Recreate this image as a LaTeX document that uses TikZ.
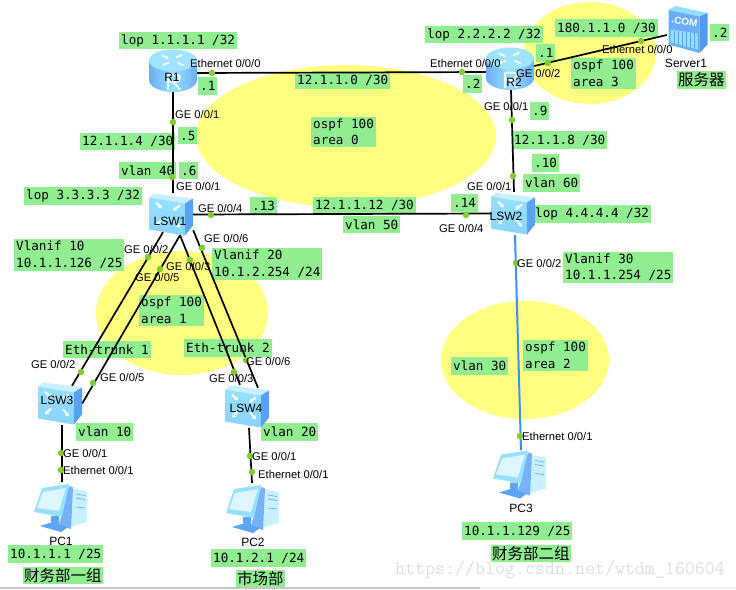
\documentclass[tikz,border=0pt]{standalone}
\usepackage{xcolor}
\usepackage{fontspec}
\setmainfont{Liberation Sans}
\newfontfamily\netmono{DejaVu Sans Mono}
\newfontfamily\netcjk{Noto Sans CJK SC}
\usepackage{tikz}
\usetikzlibrary{positioning, shapes.geometric, arrows.meta, calc, backgrounds}
\definecolor{netGreen}{HTML}{90EE90}
\definecolor{netDot}{HTML}{7FCC33}
\definecolor{netZone}{HTML}{FFFF80}
\definecolor{netBlue}{HTML}{3C90F0}
\definecolor{netSky}{HTML}{96E0FF}
\definecolor{netPale}{HTML}{C8F0FF}
\definecolor{netDeep}{HTML}{5CA4F6}
\definecolor{netMark}{HTML}{DEDDD8}
\tikzset{
  zone/.style={
    ellipse, fill=netZone, inner sep=0pt
  },
  tag/.style={
    rectangle, fill=netGreen,
    inner sep=2pt, minimum height=17.5pt,
    anchor=west, align=left,
    font=\netmono\fontsize{12.6}{16.5}\selectfont
  },
  cjktag/.style={
    rectangle, fill=netGreen,
    inner sep=1pt, minimum height=17.5pt,
    anchor=west, align=left,
    font=\netcjk\fontsize{15.5}{17}\selectfont
  },
  portdot/.style={
    circle, fill=netDot, inner sep=0pt, minimum size=6.5pt
  },
  porttext/.style={
    inner sep=0pt, anchor=west,
    font=\fontsize{11.2}{13}\selectfont
  },
  devname/.style={
    inner sep=0pt,
    font=\fontsize{12}{14}\selectfont
  },
  link/.style={
    black, line width=1.7pt
  },
  bluelink/.style={
    netBlue, line width=2pt
  },
  routericon/.style={
    rectangle, inner sep=0pt,
    minimum width=48pt, minimum height=43pt,
    path picture={
      \begin{scope}[shift={(path picture bounding box.center)}]
        \shade[left color=netDeep!90, right color=netDeep!90, middle color=netSky]
          (-24,-10) -- (-24,9.5) arc[start angle=180, end angle=360, x radius=24, y radius=-12] -- (24,-10) -- cycle;
        \fill[netSky!90!white] (0,-10) ellipse[x radius=24, y radius=11];
        \draw[white, line width=1.6pt, -{Stealth[length=3pt, width=3pt]}] (-11,-15) -- (-4,-12);
        \draw[white, line width=1.6pt, -{Stealth[length=3pt, width=3pt]}] (3,-13) -- (10,-16);
        \draw[white, line width=1.6pt, -{Stealth[length=3pt, width=3pt]}] (-4,-8) -- (-11,-5);
        \draw[white, line width=1.6pt, -{Stealth[length=3pt, width=3pt]}] (11,-5) -- (4,-8);
        \draw[white, line width=2pt] (-5,4) -- (-5,19) (-5,4) -- (3,4) .. controls (8,4) and (8,11) .. (3,11) -- (-5,11) (0,11) -- (7,19);
      \end{scope}
    }
  },
  switchicon/.style={
    rectangle, inner sep=0pt,
    minimum width=44pt, minimum height=43pt,
    path picture={
      \begin{scope}[shift={(path picture bounding box.center)}]
        \fill[netPale] (-22,-17) -- (-17,-21) -- (22,-16) -- (14,-11) -- cycle;
        \shade[top color=netSky, bottom color=netSky!85!netBlue] (-22,-17) -- (14,-11) -- (14,21) -- (-22,15) -- cycle;
        \fill[netBlue!85!white] (14,-11) -- (22,-16) -- (22,11) -- (14,21) -- cycle;
        \draw[white, line width=1.8pt, -{Stealth[length=4pt, width=5pt]}] (-15,-12) -- (-9,-6);
        \draw[white, line width=1.8pt, -{Stealth[length=4pt, width=5pt]}] (9,-9) -- (2,-4);
        \draw[white, line width=1.8pt, -{Stealth[length=4pt, width=5pt]}] (-9,5) -- (-15,11);
        \draw[white, line width=1.8pt, -{Stealth[length=4pt, width=5pt]}] (3,6) -- (9,13);
      \end{scope}
    }
  },
  servericon/.style={
    rectangle, inner sep=0pt,
    minimum width=41pt, minimum height=47pt,
    path picture={
      \begin{scope}[shift={(path picture bounding box.center)}]
        \fill[netSky] (-19,-19.5) -- (-12,-23.5) -- (20,-16.5) -- (12,-13) -- cycle;
        \fill[netDeep!90] (-19,-19.5) -- (12,-13) -- (12,23.5) -- (-19,15) -- cycle;
        \fill[netBlue!90!white] (12,-13) -- (20,-16.5) -- (20,15) -- (12,23.5) -- cycle;
        \fill[netSky] (-17,0) -- (10,4) -- (10,20) -- (-17,13) -- cycle;
        \draw[netDeep, line width=0.8pt] (-13,1) -- (-13,14) (-9,1) -- (-9,15) (-5,2) -- (-5,16) (-1,2) -- (-1,17) (3,3) -- (3,18) (7,3) -- (7,19);
        \node[inner sep=0pt, white, rotate=-10, font=\bfseries\fontsize{10}{12}\selectfont] (comtext) at (-3,-8) {.COM};
      \end{scope}
    }
  },
  pcicon/.style={
    rectangle, inner sep=0pt,
    minimum width=54pt, minimum height=50pt,
    path picture={
      \begin{scope}[shift={(path picture bounding box.center)}]
        \fill[netPale] (9,-19) -- (26,-16) -- (26,15) -- (9,20) -- cycle;
        \fill[netDeep!85] (8,-21) -- (12,-20) -- (10,22) -- (-2,18) -- cycle;
        \draw[netDeep, line width=0.6pt] (15,-13) -- (24,-11.5) (15,-9) -- (24,-7.5) (15,0) -- (24,1);
        \fill[netDeep] (-10,9) -- (-2,9) -- (-2,17) -- (-10,15) -- cycle;
        \fill[netDeep] (-21,19) -- (-8,15) -- (7,20) -- (0,25) -- cycle;
        \fill[netSky] (-19,-19) -- (8,-23) -- (1,10) -- (-27,5) -- cycle;
        \fill[netPale!60!white] (-18,-15) -- (5,-19) -- (-2,4) -- (-24,1) -- cycle;
      \end{scope}
    }
  }
}
\begin{document}
\begin{tikzpicture}[x=1pt, y=-1pt]
  \useasboundingbox (0,0) rectangle (736,589);
  % devices
  \node[routericon] (R1) at (173,70.5) {};
  \node[routericon] (R2) at (510,68.5) {};
  \node[switchicon] (LSW1) at (171,214.5) {};
  \node[switchicon] (LSW2) at (513,213.5) {};
  \node[switchicon] (LSW3) at (60,403.5) {};
  \node[switchicon] (LSW4) at (247,406.5) {};
  \node[servericon] (Server1) at (687.5,29.5) {};
  \node[pcicon] (PC1) at (61,507) {};
  \node[pcicon] (PC2) at (253,508) {};
  \node[pcicon] (PC3) at (520,473.5) {};
  \begin{scope}[on background layer]
    % ospf areas
    \node[zone, minimum width=300pt, minimum height=142pt] (area0) at (346,136) {};
    \node[zone, minimum width=172pt, minimum height=124pt] (area1) at (182,313) {};
    \node[zone, minimum width=168pt, minimum height=118pt] (area2) at (525,360) {};
    \node[zone, minimum width=132pt, minimum height=102pt] (area3) at (590,53) {};
    % addresses
    \node[tag] (t1) at (119,40.5) {lop 1.1.1.1 /32};
    \node[tag] (t2) at (198,86) {.1};
    \node[tag] (t3) at (295,80.5) {12.1.1.0 /30};
    \node[tag] (t4) at (311,132) {ospf 100\\area 0};
    \node[tag] (t5) at (178,135.5) {.5};
    \node[tag] (t6) at (80,141.5) {12.1.1.4 /30};
    \node[tag] (t7) at (119,170.5) {vlan 40};
    \node[tag] (t8) at (179,170.5) {.6};
    \node[tag] (t9) at (24,196) {lop 3.3.3.3 /32};
    \node[tag] (t10) at (250,206) {.13};
    \node[tag] (t11) at (313,205.5) {12.1.1.12 /30};
    \node[tag] (t12) at (343,224.5) {vlan 50};
    \node[tag] (t13) at (14,255) {Vlanif 10\\10.1.1.126 /25};
    \node[tag] (t14) at (212,264) {Vlanif 20\\10.1.2.254 /24};
    \node[tag] (t15) at (139,310.5) {ospf 100\\area 1};
    \node[tag] (t16) at (63,349.5) {Eth-trunk 1};
    \node[tag] (t17) at (184,348) {Eth-trunk 2};
    \node[tag] (t18) at (76,432) {vlan 10};
    \node[tag] (t19) at (261,432) {vlan 20};
    \node[tag] (t20) at (8,554) {10.1.1.1 /25};
    \node[cjktag] (t21) at (23,575.5) {财务部一组};
    \node[tag] (t22) at (211,558) {10.1.2.1 /24};
    \node[cjktag] (t23) at (236,578.5) {市场部};
    \node[tag] (t24) at (425,34.5) {lop 2.2.2.2 /32};
    \node[tag] (t25) at (536,53) {.1};
    \node[tag] (t26) at (555,28) {180.1.1.0 /30};
    \node[tag] (t27) at (571,73.5) {ospf 100\\area 3};
    \node[tag] (t28) at (710,32.5) {.2};
    \node[cjktag] (t29) at (677,80) {服务器};
    \node[tag] (t30) at (463,84) {.2};
    \node[tag] (t31) at (530,111) {.9};
    \node[tag] (t32) at (512,140) {12.1.1.8 /30};
    \node[tag] (t33) at (532,163) {.10};
    \node[tag] (t34) at (523,183) {vlan 60};
    \node[tag] (t35) at (451,203) {.14};
    \node[tag] (t36) at (533,214) {lop 4.4.4.4 /32};
    \node[tag] (t37) at (563,267.5) {Vlanif 30\\10.1.1.254 /25};
    \node[tag] (t38) at (523,355.5) {ospf 100\\area 2};
    \node[tag] (t39) at (451,366) {vlan 30};
    \node[tag] (t40) at (462,531) {10.1.1.129 /25};
    \node[cjktag] (t41) at (491,553.5) {财务部二组};
    % links
    \draw[link] ([yshift=-2.5]R1.east) -- ([yshift=-3.5]R2.west);
    \draw[link] (R1.south) -- ([xshift=2]LSW1.north);
    \draw[link] (LSW1.east) -- (LSW2.west);
    \draw[link] ([xshift=1]R2.south) -- ([xshift=1]LSW2.north);
    \draw[link] ([yshift=2.5]R2.east) -- ([yshift=-5.5]Server1.west);
    \draw[link] ([xshift=-8,yshift=4]LSW1.south) -- ([xshift=12,yshift=-4]LSW3.north);
    \draw[link] ([xshift=9,yshift=1]LSW1.south) -- (LSW3.east);
    \draw[link] ([xshift=9,yshift=1]LSW1.south) -- ([xshift=-7]LSW4.north);
    \draw[link] ([yshift=6]LSW1.south east) -- ([xshift=11,yshift=-3]LSW4.north);
    \draw[link] ([xshift=2]LSW3.south) -- ([xshift=1]PC1.north);
    \draw[link] ([xshift=2]LSW4.south) -- ([xshift=-1]PC2.north);
    \draw[bluelink] ([xshift=2]LSW2.south) -- ([xshift=1,yshift=-2]PC3.north);
  \end{scope}
  % device names
  \node[devname] (nR1) at (172,77) {R1};
  \node[devname] (nR2) at (514,82) {R2};
  \node[devname] (nLSW1) at (170,221) {LSW1};
  \node[devname] (nLSW2) at (506,216) {LSW2};
  \node[devname] (nLSW3) at (57,400) {LSW3};
  \node[devname] (nLSW4) at (246,408) {LSW4};
  \node[devname] (nServer1) at (686,63) {Server1};
  \node[devname] (nPC1) at (61,541) {PC1};
  \node[devname] (nPC2) at (253,542) {PC2};
  \node[devname] (nPC3) at (521,508) {PC3};
  % ports
  \node[portdot] (d1) at (212,73) {};
  \node[portdot] (d2) at (173,122) {};
  \node[portdot] (d3) at (172,177) {};
  \node[portdot] (d4) at (211,215) {};
  \node[portdot] (d5) at (202,248) {};
  \node[portdot] (d6) at (148,257) {};
  \node[portdot] (d7) at (160,269) {};
  \node[portdot] (d8) at (190,260) {};
  \node[portdot] (d9) at (462,72) {};
  \node[portdot] (d10) at (548,63) {};
  \node[portdot] (d11) at (641,41) {};
  \node[portdot] (d12) at (512,120) {};
  \node[portdot] (d13) at (513,176) {};
  \node[portdot] (d14) at (466,215) {};
  \node[portdot] (d15) at (516,263) {};
  \node[portdot] (d16) at (81,372) {};
  \node[portdot] (d17) at (93,383) {};
  \node[portdot] (d18) at (234,372) {};
  \node[portdot] (d19) at (246,360) {};
  \node[portdot] (d20) at (61,453) {};
  \node[portdot] (d21) at (61,470) {};
  \node[portdot] (d22) at (250,456) {};
  \node[portdot] (d23) at (252,472) {};
  \node[portdot] (d24) at (520,436) {};
  \node[porttext] (p1) at (190,63) {Ethernet 0/0/0};
  \node[porttext] (p2) at (175,114) {GE 0/0/1};
  \node[porttext] (p3) at (176,186) {GE 0/0/1};
  \node[porttext] (p4) at (198,208) {GE 0/0/4};
  \node[porttext] (p5) at (204,238) {GE 0/0/6};
  \node[porttext] (p6) at (124,249) {GE 0/0/2};
  \node[porttext] (p7) at (166,266) {GE 0/0/3};
  \node[porttext] (p8) at (135,277) {GE 0/0/5};
  \node[porttext] (p9) at (31,364) {GE 0/0/2};
  \node[porttext] (p10) at (100,377) {GE 0/0/5};
  \node[porttext] (p11) at (246,361) {GE 0/0/6};
  \node[porttext] (p12) at (209,378) {GE 0/0/3};
  \node[porttext] (p13) at (63,453) {GE 0/0/1};
  \node[porttext] (p14) at (63,470) {Ethernet 0/0/1};
  \node[porttext] (p15) at (252,456) {GE 0/0/1};
  \node[porttext] (p16) at (258,474) {Ethernet 0/0/1};
  \node[porttext] (p17) at (430,63) {Ethernet 0/0/0};
  \node[porttext] (p18) at (602,49) {Ethernet 0/0/0};
  \node[porttext] (p19) at (516,73) {GE 0/0/2};
  \node[porttext] (p20) at (484,106) {GE 0/0/1};
  \node[porttext] (p21) at (467,186) {GE 0/0/1};
  \node[porttext] (p22) at (439,228) {GE 0/0/4};
  \node[porttext] (p23) at (517,263) {GE 0/0/2};
  \node[porttext] (p24) at (522,436) {Ethernet 0/0/1};
  % screenshot leftovers
  \node[inner sep=0pt, anchor=west, netMark, font=\ttfamily\fontsize{19.4}{21}\selectfont] (mark) at (395,570) {https://blog.csdn.net/wtdm\_160604};
  \fill[gray!10] (0,587) rectangle (736,589);
  \fill[gray!45] (0,587) rectangle (480,589);
\end{tikzpicture}
\end{document}
